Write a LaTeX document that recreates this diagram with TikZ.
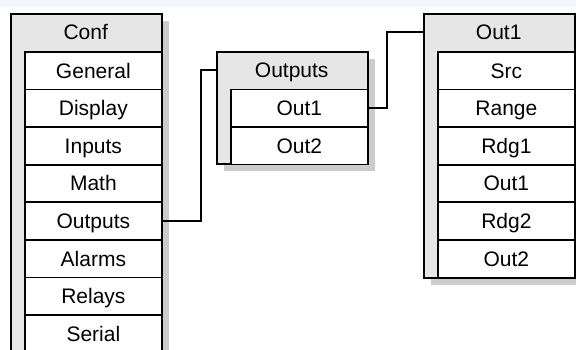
\documentclass[tikz,border=0pt]{standalone}
\usepackage{fontspec}
\setmainfont{Liberation Sans}
\usetikzlibrary{shadows}
\definecolor{bandblue}{HTML}{F2F6FC}
\definecolor{boxgray}{HTML}{E6E6E6}
\definecolor{shadowgray}{HTML}{CCCCCC}
\tikzset{
	menubox/.style={draw, fill=boxgray, line width=1.7pt, rectangle, anchor=north west, inner sep=0pt, minimum width=151pt,
		drop shadow={shadow xshift=7pt, shadow yshift=-7pt, fill=shadowgray, opacity=1}},
	menutitle/.style={rectangle, anchor=north west, inner sep=0pt, minimum width=151pt, minimum height=37.5pt, text height=15pt, text depth=0pt},
	menuitem/.style={draw, fill=white, line width=1.7pt, rectangle, anchor=north west, inner sep=0pt, minimum width=137pt, minimum height=37.6pt, text height=15pt, text depth=0pt},
	link/.style={line width=1.7pt}
}
\begin{document}
\begin{tikzpicture}[x=1pt,y=-1pt,font=\fontsize{21}{25}\selectfont]
		\useasboundingbox (0,0) rectangle (576,349);
		\clip (0,0) rectangle (576,349);
		\fill[white] (0,0) rectangle (576,349);
		\fill[bandblue] (0,0) rectangle (576,7);
		
		% Conf menu
		\node[menubox, minimum height=360pt] (conf) at (10,13) {};
		\node[menutitle] (confTitle) at (10,13) {Conf};
		\foreach \name [count=\i from 0] in {General,Display,Inputs,Math,Outputs,Alarms,Relays,Serial}
			\node[menuitem] (conf\name) at (24,{51+\i*37.6}) {\name};
		
		% Outputs menu
		\node[menubox, minimum height=112pt] (outputs) at (216,51) {};
		\node[menutitle] (outputsTitle) at (216,51) {Outputs};
		\node[menuitem] (outOut1) at (230,88.5) {Out1};
		\node[menuitem] (outOut2) at (230,126) {Out2};
		
		% Out1 menu
		\node[menubox, minimum height=264pt] (out1) at (423,13) {};
		\node[menutitle] (out1Title) at (423,13) {Out1};
		\foreach \name [count=\i from 0] in {Src,Range,Rdg1,Out1,Rdg2,Out2}
			\node[menuitem] (o1\name) at (437,{51+\i*37.6}) {\name};
		
		\draw[link] (confOutputs.east) -- ++(38,0) |- (outputsTitle.west);
		\draw[link] (outOut1.east) -- ++(18,0) |- (out1Title.west);
	\end{tikzpicture}
\end{document}
